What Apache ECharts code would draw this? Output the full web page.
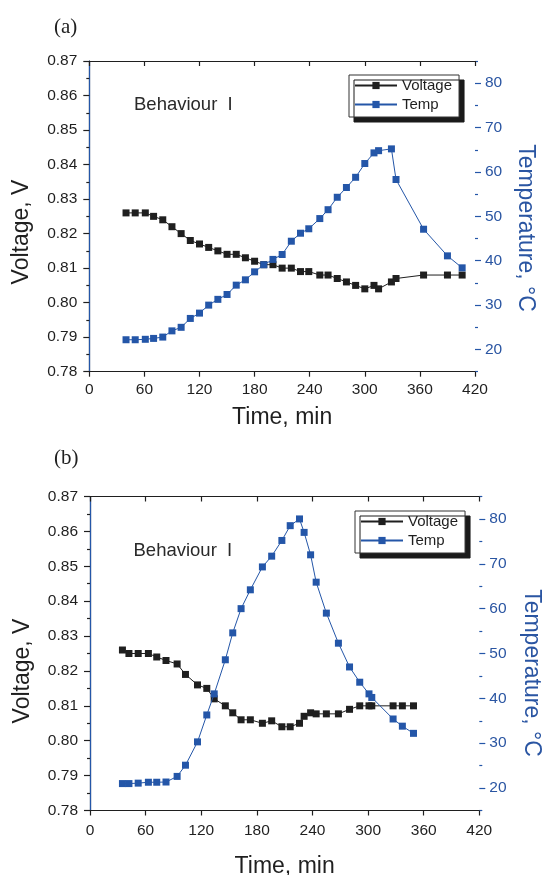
<!DOCTYPE html>
<html>
<head>
<meta charset="utf-8">
<script src="https://cdn.jsdelivr.net/npm/echarts@6/dist/echarts.min.js"></script>
<style>
  html, body { margin: 0; padding: 0; background: #fff; }
  #chart { width: 542px; height: 875px; }
</style>
</head>
<body>
<div id="chart"></div>
<script>
// ---- (a) run: time (min), cell voltage (V), temperature (°C)
const timeA = [40, 50, 61, 70, 80, 90, 100, 110, 120, 130, 140, 150, 160, 170, 180, 190, 200,
  210, 220, 230, 239, 251, 260, 270, 280, 290, 300, 310, 315, 329, 334, 364, 390, 406];
const voltageA = [0.826, 0.826, 0.826, 0.825, 0.824, 0.822, 0.820, 0.818, 0.817, 0.816, 0.815,
  0.814, 0.814, 0.813, 0.812, 0.811, 0.811, 0.810, 0.810, 0.809, 0.809, 0.808, 0.808, 0.807,
  0.806, 0.805, 0.804, 0.805, 0.804, 0.806, 0.807, 0.808, 0.808, 0.808];
const tempA = [22.2, 22.2, 22.3, 22.5, 22.8, 24.2, 25.0, 27.0, 28.2, 30.0, 31.3, 32.4, 34.5,
  35.7, 37.5, 39.1, 40.3, 41.4, 44.4, 46.2, 47.2, 49.5, 51.5, 54.3, 56.5, 58.8, 61.9, 64.3,
  64.8, 65.2, 58.3, 47.1, 41.1, 38.4];

// ---- (b) run
const timeB = [35, 42, 52, 63, 72, 82, 94, 103, 116, 126, 134, 146, 154, 163, 173, 186, 196,
  207, 216, 226, 231, 238, 244, 255, 268, 280, 291, 301, 304, 327, 337, 349];
const voltageB = [0.826, 0.825, 0.825, 0.825, 0.824, 0.823, 0.822, 0.819, 0.816, 0.815, 0.812,
  0.810, 0.808, 0.806, 0.806, 0.805, 0.8057, 0.804, 0.804, 0.805, 0.807, 0.808, 0.8077, 0.8077,
  0.8077, 0.809, 0.810, 0.810, 0.810, 0.810, 0.810, 0.810];
const tempB = [21.0, 21.0, 21.1, 21.3, 21.3, 21.35, 22.6, 25.1, 30.3, 36.3, 41.0, 48.6, 54.6,
  60.0, 64.2, 69.3, 71.7, 75.2, 78.5, 80.0, 77.0, 72.0, 65.9, 59.0, 52.3, 47.0, 43.6, 41.0,
  40.2, 35.4, 33.8, 32.2];

// ---- axis scales and tick labels
const timeMin = 0, timeMax = 420, timeStep = 60;
const voltMin = 0.78, voltMax = 0.87, voltStep = 0.01;
const tempMin = 15, tempMax = 85;
const tempLabels = [20, 30, 40, 50, 60, 70, 80];

const seriesNames = ['Voltage', 'Temp'];
const panelLabels = ['(a)', '(b)'];
const noteText = 'Behaviour  I';

const INK = '#1f1f1f';
const BLUE = '#2456a8';
const BLUE_TEXT = '#2a55a2';
const SANS = '"Liberation Sans", Arial, sans-serif';
const SERIF = '"Liberation Serif", "Times New Roman", serif';

const pair = (xs, ys) => xs.map((x, i) => [x, ys[i]]);

// panel frames in page pixels
const panels = [
  { left: 89.3, top: 61, width: 385.7, height: 310.7, labelMargin: 10, nameGap: 34,
    legend: { left: 349, top: 75 }, note: [134, 104.5], tag: [54, 27],
    voltTitle: [22, 232], tempTitle: [525, 228] },
  { left: 90, top: 496.5, width: 389.3, height: 314, labelMargin: 12, nameGap: 45,
    legend: { left: 355, top: 511 }, note: [133.5, 550.7], tag: [54, 458],
    voltTitle: [22.5, 671], tempTitle: [531, 673] }
];

const axisLine = (c) => ({ show: true, lineStyle: { color: c, width: 1.2 } });

const xAxes = [];
const yAxes = [];
const series = [];
const legends = [];
const graphics = [];

panels.forEach((p, gi) => {
  // bottom time axis
  xAxes.push({
    type: 'value', gridIndex: gi, position: 'bottom',
    min: timeMin, max: timeMax, interval: timeStep,
    axisLine: axisLine(INK),
    axisTick: { show: true, inside: false, length: 5, lineStyle: { color: INK, width: 1.2 } },
    axisLabel: { margin: p.labelMargin, fontSize: 15.5, color: INK, fontFamily: SANS },
    splitLine: { show: false },
    name: 'Time, min', nameLocation: 'middle', nameGap: p.nameGap,
    nameTextStyle: { fontSize: 23, color: INK, fontFamily: SANS }
  });
  // top frame edge
  xAxes.push({
    type: 'value', gridIndex: gi, position: 'top',
    min: timeMin, max: timeMax, interval: timeStep,
    axisLine: axisLine(INK),
    axisTick: { show: true, inside: true, length: 5, lineStyle: { color: INK, width: 1.2 } },
    axisLabel: { show: false },
    splitLine: { show: false }
  });
  // voltage axis
  const vIdx = yAxes.length;
  yAxes.push({
    type: 'value', gridIndex: gi, position: 'left',
    min: voltMin, max: voltMax, interval: voltStep,
    axisLine: axisLine(INK),
    axisTick: { show: true, inside: false, length: 6, lineStyle: { color: INK, width: 1.2 } },
    minorTick: { show: true, splitNumber: 2, length: 3, lineStyle: { color: INK, width: 1.2 } },
    axisLabel: { margin: 12, fontSize: 15.5, color: INK, fontFamily: SANS,
      formatter: (v) => v.toFixed(2) },
    splitLine: { show: false }, minorSplitLine: { show: false }
  });
  // temperature axis: line and labels on the tens
  const tIdx = yAxes.length;
  yAxes.push({
    type: 'value', gridIndex: gi, position: 'right',
    min: tempMin, max: tempMax, interval: 5,
    axisLine: axisLine(BLUE),
    axisTick: { show: false },
    axisLabel: { margin: 10, fontSize: 15.5, color: BLUE_TEXT, fontFamily: SANS,
      formatter: (v) => (tempLabels.indexOf(Math.round(v)) >= 0 ? String(Math.round(v)) : '') },
    splitLine: { show: false }
  });
  // temperature axis: short ticks at 15, 25, ... and long ticks at 20, 30, ...
  yAxes.push({
    type: 'value', gridIndex: gi, position: 'right',
    min: tempMin, max: tempMax, interval: 10,
    axisLine: { show: false },
    axisTick: { show: true, inside: false, length: 3, lineStyle: { color: BLUE, width: 1.2 } },
    minorTick: { show: true, splitNumber: 2, length: 6, lineStyle: { color: BLUE, width: 1.2 } },
    axisLabel: { show: false },
    splitLine: { show: false }, minorSplitLine: { show: false }
  });

  const t = gi === 0 ? timeA : timeB;
  const v = gi === 0 ? voltageA : voltageB;
  const T = gi === 0 ? tempA : tempB;

  series.push({
    name: seriesNames[0], type: 'line', xAxisIndex: gi * 2, yAxisIndex: vIdx,
    data: pair(t, v), symbol: 'rect', symbolSize: 7, showAllSymbol: true,
    itemStyle: { color: INK }, lineStyle: { color: INK, width: 1 },
    emphasis: { disabled: true }, z: 2
  });
  series.push({
    name: seriesNames[1], type: 'line', xAxisIndex: gi * 2, yAxisIndex: tIdx,
    data: pair(t, T), symbol: 'rect', symbolSize: 7, showAllSymbol: true,
    itemStyle: { color: BLUE }, lineStyle: { color: BLUE, width: 1 },
    emphasis: { disabled: true }, z: 3
  });

  legends.push({
    orient: 'vertical', left: p.legend.left, top: p.legend.top,
    data: seriesNames, itemWidth: 42, itemHeight: 9, itemGap: 4,
    padding: [3, 7, 5, 5],
    backgroundColor: '#fff', borderColor: '#333', borderWidth: 1,
    shadowColor: '#1a1a1a', shadowOffsetX: 5, shadowOffsetY: 5, shadowBlur: 0,
    textStyle: { fontSize: 15, color: INK, fontFamily: SANS },
    selectedMode: false
  });

  graphics.push(
    { type: 'text', x: p.tag[0], y: p.tag[1],
      style: { text: panelLabels[gi], font: '21px ' + SERIF, fill: INK,
        align: 'left', verticalAlign: 'middle' } },
    { type: 'text', x: p.note[0], y: p.note[1],
      style: { text: noteText, font: '18.5px ' + SANS, fill: '#2a2a2a',
        align: 'left', verticalAlign: 'middle' } },
    { type: 'text', x: p.voltTitle[0], y: p.voltTitle[1], rotation: Math.PI / 2,
      style: { text: 'Voltage, V', font: '23px ' + SANS, fill: INK,
        align: 'center', verticalAlign: 'middle' } },
    { type: 'text', x: p.tempTitle[0], y: p.tempTitle[1], rotation: -Math.PI / 2,
      style: { text: 'Temperature, \u00B0C', font: '23px ' + SANS, fill: BLUE_TEXT,
        align: 'center', verticalAlign: 'middle' } }
  );
});

const chart = echarts.init(document.getElementById('chart'), null, { renderer: 'canvas' });
chart.setOption({
  animation: false,
  backgroundColor: '#fff',
  grid: panels.map((p) => ({ left: p.left, top: p.top, width: p.width, height: p.height,
    containLabel: false, outerBoundsMode: 'none' })),
  xAxis: xAxes,
  yAxis: yAxes,
  legend: legends,
  series: series,
  graphic: graphics
});
</script>
</body>
</html>
